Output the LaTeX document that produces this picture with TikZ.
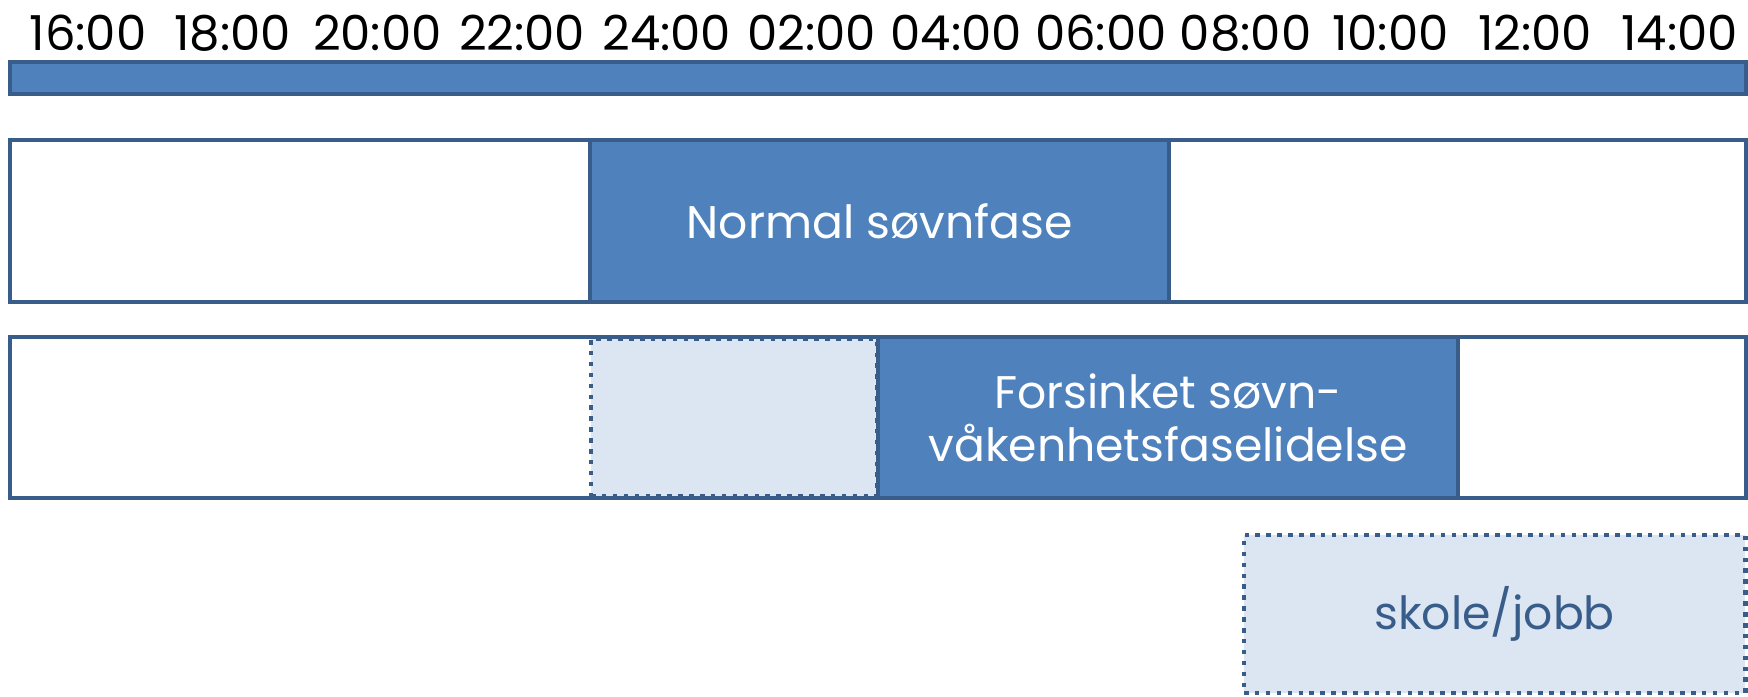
\documentclass[tikz,border=0pt]{standalone}
\usepackage{fontspec}
\setmainfont{Poppins}
\usetikzlibrary{positioning}
\definecolor{phaseblue}{HTML}{4F81BD}
\definecolor{phaseedge}{HTML}{385D8A}
\definecolor{phaselight}{HTML}{DCE6F2}

\begin{document}
\begin{tikzpicture}[x=0.01cm, y=-0.01cm,
        band/.style={draw=phaseedge, line width=1.1pt, anchor=north west, inner sep=0pt, outer sep=0pt, font=\fontsize{13}{15}\selectfont, align=center},
        solidband/.style={band, fill=phaseblue, text=white},
        emptyband/.style={band, fill=white},
        dotband/.style={band, fill=phaselight, text=phaseedge, line width=1.3pt, dash pattern=on 1.3pt off 1.8pt}]
      \useasboundingbox (0,0) rectangle (1748,696);
      % time axis
      \foreach \t [count=\i from 0] in {16,18,20,22,24,02,04,06,08,10,12,14}
        \node[anchor=base, font=\fontsize{13.7}{15}\selectfont] (t\i) at (88+144.7*\i, 50) {\t:00};
      \node[solidband, minimum width=17.35cm, minimum height=0.32cm] (axis) at (10,62) {};

      % normal phase
      \node[emptyband, minimum width=17.35cm, minimum height=1.62cm] (normalrow) at (10,140) {};
      \node[solidband, minimum width=5.79cm, minimum height=1.62cm] (normal) at (590,140) {Normal søvnfase};

      % delayed phase
      \node[emptyband, minimum width=17.35cm, minimum height=1.61cm] (delayrow) at (10,337) {};
      \node[dotband, minimum width=2.86cm, minimum height=1.57cm] (shift) at (591,339) {};
      \node[solidband, minimum width=5.80cm, minimum height=1.61cm] (delay) at (878,337) {Forsinket søvn-\\våkenhetsfaselidelse};

      % school
      \node[dotband, minimum width=5.01cm, minimum height=1.58cm] (school) at (1244,535) {skole/jobb};
    \end{tikzpicture}
\end{document}
